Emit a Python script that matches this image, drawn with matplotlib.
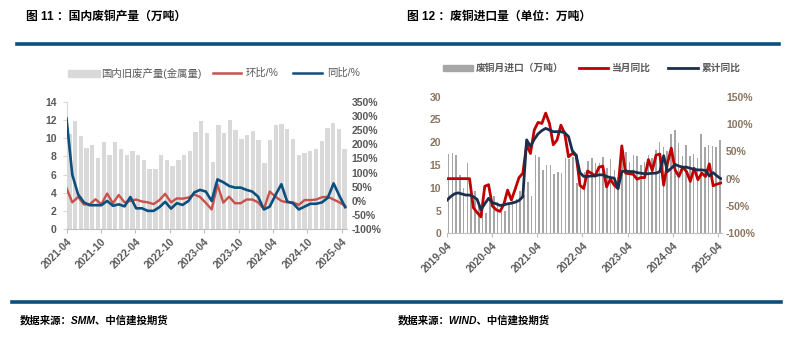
import numpy as np
import matplotlib.pyplot as plt
from matplotlib.lines import Line2D
from matplotlib.patches import Rectangle
from matplotlib.ticker import FuncFormatter

plt.rcParams['font.family'] = ['Liberation Sans', 'Noto Sans CJK SC', 'DejaVu Sans']

W, H = 795, 347

# 图11：国内废铜产量，2021-04 起按月
prod_ticks = ['2021-04', '2021-10', '2022-04', '2022-10', '2023-04',
              '2023-10', '2024-04', '2024-10', '2025-04']
prod_volume = [10.5, 11.9, 10.2, 8.9, 9.2, 7.8, 9.6, 8.1, 9.6, 8.8,
               8.1, 8.6, 8.1, 7.6, 6.6, 6.6, 8.1, 7.6, 6.9, 7.6,
               8.1, 8.6, 10.7, 11.9, 10.6, 7.4, 11.4, 10.6, 12.0, 10.9,
               9.9, 10.3, 10.8, 9.8, 7.3, 9.8, 11.4, 11.6, 11.0, 9.9,
               8.2, 8.4, 8.6, 8.8, 9.7, 11.1, 11.7, 11.0, 8.8]
prod_mom = [45, -5, 14, -12, -12, 6, -12, 26, -8, 21,
            -5, 0, 5, -2, -5, -11, 3, 25, -5, 9,
            8, 12, 23, 14, -7, -30, 57, -6, 15, -8,
            -8, 5, 5, -5, -28, 33, 15, 0, -5, -5,
            -14, 3, 3, 5, 13, 15, 5, -5, -18]
prod_yoy = [291, 92, 23, -5, -15, -15, -15, 0, -17, -12,
            -19, 14, -26, -26, -35, -35, -22, -3, -27, -8,
            -14, 0, 30, 39, 33, 0, 76, 66, 53, 47,
            47, 39, 33, 15, -30, -20, 21, 59, -2, -8,
            -30, -20, -10, -10, -5, 11, 62, 18, -22]

# 图12：废铜进口，2019-04 起按月
imp_ticks = ['2019-04', '2020-04', '2021-04', '2022-04',
             '2023-04', '2024-04', '2025-04']
imp_volume = [17.4, 17.6, 17.2, 12.8, 10.0, 15.5, 8.5, 9.3, 6.5, 5.5,
              4.5, 7.0, 8.2, 6.8, 5.5, 5.0, 6.5, 7.0, 7.5, 9.3,
              8.5, 11.2, 8.1, 17.2, 16.8, 13.9, 15.0, 15.0, 13.0, 13.4,
              13.3, 16.6, 16.4, 16.8, 11.0, 13.0, 13.5, 15.9, 16.6, 15.4,
              15.5, 16.8, 14.3, 16.3, 13.9, 12.3, 17.9, 17.8, 15.7, 17.3,
              17.0, 15.0, 15.6, 17.1, 16.5, 18.3, 20.1, 19.0, 18.0, 21.7,
              22.7, 19.8, 17.0, 19.4, 17.0, 17.4, 16.5, 21.7, 19.0, 19.4,
              19.2, 19.0, 20.5]
imp_month_yoy = [0, 0, 0, 0, 0, 0, 0, -53, -62, -70,
                 -14, -11, -50, -57, -60, -47, -21, -39, -19, 2,
                 10, 63, 46, 89, 103, 101, 120, 101, 62, 71,
                 98, 83, 40, 46, 43, -12, -18, 14, 10, 5,
                 21, 23, -15, -1, -12, -18, 60, 10, 9, 8,
                 -1, 2, 2, 35, 15, 43, 45, -12, 28, 56,
                 16, 4, 21, 13, -5, 19, -2, 10, 4, 27,
                 -13, -10, -8]
imp_cum_yoy = [-40, -33, -28, -26, -28, -30, -30, -33, -38, -57,
               -46, -36, -44, -46, -49, -48, -46, -45, -43, -40,
               -33, 71, 59, 72, 82, 88, 92, 89, 86, 86,
               86, 84, 77, 51, 43, 11, 4, 4, 5, 5,
               7, 7, 4, 2, 1, -18, 13, 14, 13, 13,
               11, 10, 9, 9, 10, 10, 13, 42, 13, 19,
               26, 23, 21, 21, 19, 17, 16, 16, 15, 5,
               11, 5, 0]

GREY_TXT = '#595959'
pct_fmt = FuncFormatter(lambda v, _: f'{v:.0f}%')


def fig_xy(x, y):
    return x / W, 1 - y / H


def legend_patch(fig, x0, x1, y, h, color):
    fx, fy = fig_xy(x0, y + h / 2)
    fig.patches.append(Rectangle((fx, fy), (x1 - x0) / W, h / H, color=color,
                                 transform=fig.transFigure, figure=fig))


def legend_line(fig, x0, x1, y, color, lw):
    fig.lines.append(Line2D([x0 / W, x1 / W], [1 - y / H, 1 - y / H], color=color,
                            lw=lw, transform=fig.transFigure, figure=fig))


def style_axes(ax, axr, ticks, step, tick_color, ycolor):
    for s in ['top', 'right']:
        ax.spines[s].set_visible(False)
    for s in axr.spines.values():
        s.set_visible(False)
    ax.spines['left'].set_color('#d9d9d9')
    ax.spines['bottom'].set_color('#bfbfbf')
    ax.set_xticks(np.arange(len(ticks)) * step)
    ax.set_xticklabels(ticks, rotation=45, ha='right', rotation_mode='anchor')
    ax.tick_params(axis='x', length=3, color='#bfbfbf', labelsize=7.5,
                   labelcolor=tick_color, pad=2)
    ax.tick_params(axis='y', length=3, color='#d9d9d9', labelsize=7.5,
                   labelcolor=ycolor, pad=4)
    axr.tick_params(axis='y', length=0, labelsize=7.5, labelcolor=ycolor, pad=3)
    axr.yaxis.set_major_formatter(pct_fmt)
    for lab in ax.get_xticklabels() + ax.get_yticklabels() + axr.get_yticklabels():
        lab.set_fontweight('bold')


fig = plt.figure(figsize=(W / 100, H / 100), dpi=100)

# ---- 图11 ----
ax1 = fig.add_axes([66.5 / W, 1 - 229.3 / H, 281 / W, 127.6 / H])
n1 = len(prod_volume)
ax1.bar(np.arange(n1) + 0.5, prod_volume, width=0.76, color='#d9d9d9', zorder=1)
ax1.set_xlim(0, n1)
ax1.set_ylim(0, 14)
ax1.set_yticks(range(0, 15, 2))
ax1r = ax1.twinx()
x1_line = np.arange(n1) * (48.6 / (n1 - 1))
ax1r.plot(x1_line, prod_mom, color='#c9504b', lw=1.7)
ax1r.plot(x1_line, prod_yoy, color='#0b4f7e', lw=1.9)
ax1r.set_ylim(-100, 350)
ax1r.set_yticks(range(-100, 351, 50))
style_axes(ax1, ax1r, prod_ticks, 6, GREY_TXT, GREY_TXT)

legend_patch(fig, 68, 100, 73, 7, '#d9d9d9')
fig.text(101 / W, 1 - 73 / H, '国内旧废产量(金属量)', fontsize=7.5, color=GREY_TXT, va='center')
legend_line(fig, 213, 241, 73, '#c9504b', 1.8)
fig.text(246 / W, 1 - 73 / H, '环比/%', fontsize=7.5, color=GREY_TXT, va='center')
legend_line(fig, 293, 322, 73, '#0b4f7e', 1.8)
fig.text(327 / W, 1 - 73 / H, '同比/%', fontsize=7.5, color=GREY_TXT, va='center')

# ---- 图12 ----
ax2 = fig.add_axes([446.7 / W, 1 - 233.3 / H, 275.2 / W, 136.6 / H])
n2 = len(imp_volume)
ax2.bar(np.arange(n2) + 0.5, imp_volume, width=0.42, color='#a6a6a6', zorder=1)
ax2.set_xlim(0, n2)
ax2.set_ylim(0, 30)
ax2.set_yticks(range(0, 31, 5))
ax2r = ax2.twinx()
x2_line = np.arange(n2) * (72.7 / (n2 - 1))
ax2r.plot(x2_line, imp_month_yoy, color='#c00000', lw=2.0)
ax2r.plot(x2_line, imp_cum_yoy, color='#1b2f4d', lw=2.0)
ax2r.set_ylim(-100, 150)
ax2r.set_yticks(range(-100, 151, 50))
style_axes(ax2, ax2r, imp_ticks, 12, GREY_TXT, '#8a7560')
ax2.spines['left'].set_visible(False)
ax2.tick_params(axis='y', length=0)

legend_patch(fig, 443, 473, 68, 6, '#a6a6a6')
fig.text(476 / W, 1 - 68 / H, '废铜月进口（万吨）', fontsize=7, color=GREY_TXT,
         va='center', fontweight='bold')
legend_line(fig, 579, 608, 68, '#c00000', 2.0)
fig.text(612 / W, 1 - 68 / H, '当月同比', fontsize=7, color=GREY_TXT,
         va='center', fontweight='bold')
legend_line(fig, 668, 698, 68, '#1b2f4d', 2.0)
fig.text(702 / W, 1 - 68 / H, '累计同比', fontsize=7, color=GREY_TXT,
         va='center', fontweight='bold')

# 标题、分隔线与数据来源
fig.text(26 / W, 1 - 17 / H, '图 11 ：国内废铜产量（万吨）', fontsize=8.5,
         fontweight='bold', va='center')
fig.text(407 / W, 1 - 17 / H, '图 12 ：废铜进口量（单位：万吨）', fontsize=8.5,
         fontweight='bold', va='center')
legend_line(fig, 17, 779, 44, '#0b4f7e', 2.6)
legend_line(fig, 12, 781, 302, '#0b4f7e', 2.6)
fig.text(20 / W, 1 - 320 / H, '数据来源：SMM、中信建投期货', fontsize=7.5,
         fontweight='bold', va='center', style='italic')
fig.text(398 / W, 1 - 320 / H, '数据来源：WIND、中信建投期货', fontsize=7.5,
         fontweight='bold', va='center', style='italic')

fig.savefig('out.png', dpi=100)
